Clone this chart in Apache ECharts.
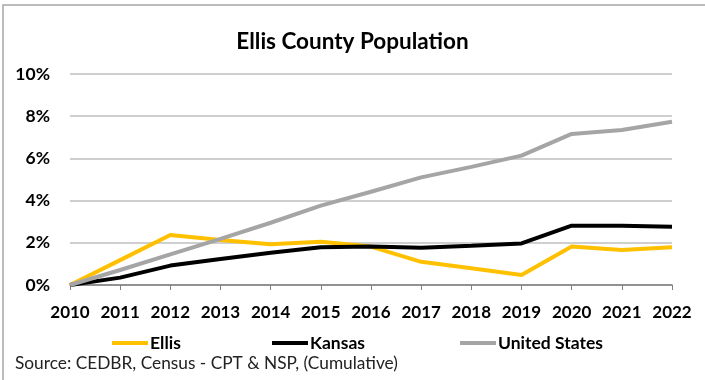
<!DOCTYPE html>
<html><head><meta charset="utf-8">
<script src="https://cdn.jsdelivr.net/npm/echarts@6/dist/echarts.min.js"></script>
<style>html,body{margin:0;padding:0;background:#fff}#c{width:705px;height:380px}</style>
</head><body><div id="c"></div>
<script>
const years = ['2010','2011','2012','2013','2014','2015','2016','2017','2018','2019','2020','2021','2022'];
const ellis = [0, 1.18, 2.37, 2.13, 1.93, 2.05, 1.82, 1.1, 0.79, 0.47, 1.82, 1.66, 1.79];
const kansas = [0, 0.35, 0.92, 1.23, 1.53, 1.79, 1.82, 1.77, 1.86, 1.97, 2.81, 2.81, 2.76];
const us = [0, 0.71, 1.45, 2.19, 2.95, 3.76, 4.42, 5.1, 5.6, 6.13, 7.16, 7.35, 7.74];
const seriesNames = ['Ellis','Kansas','United States'];
const FONT = 'Lato';
const legendLefts = [107, 267, 455];
const legendBase = {top:329, itemWidth:36, itemHeight:4, icon:'rect',
    textStyle:{fontSize:17.5, fontWeight:'bold', color:'#000', padding:[0,0,0,-3]}};
const chart = echarts.init(document.getElementById('c'));
chart.setOption({
  animation: false,
  textStyle: {fontFamily: FONT},
  graphic: [{type:'rect', shape:{x:3, y:5, width:720, height:400}, style:{fill:'none', stroke:'#a6a6a6', lineWidth:1.5}, silent:true},
    {type:'text', left:15, top:355, style:{text:'Source: CEDBR, Census - CPT & NSP, (Cumulative)', font:'17.3px '+FONT, fill:'#222'}}],
  title: {text:'Ellis County Population', left:'center', top:25, textStyle:{fontSize:22.5, fontWeight:'bold', color:'#000', fontFamily:FONT}},
  legend: seriesNames.map((n,i)=>Object.assign({}, legendBase, {left:legendLefts[i], data:[n]})),
  grid: {left:70, right:33, top:74, bottom:95},
  xAxis: {type:'category', data:years, boundaryGap:false,
    axisLine:{lineStyle:{color:'#7f7f7f', width:1.5}},
    axisTick:{show:true, interval:0, lineStyle:{color:'#7f7f7f'}, length:5},
    axisLabel:{interval:0, hideOverlap:false, fontSize:17, fontWeight:'bold', color:'#000', margin:19}},
  yAxis: {type:'value', min:0, max:10, interval:2,
    axisLine:{show:false}, axisTick:{show:false},
    splitLine:{lineStyle:{color:'#bfbfbf', width:1.5}},
    axisLabel:{formatter:'{value}%', fontSize:17.5, fontWeight:'bold', color:'#000', margin:20}},
  series: [
    {name:'Ellis', type:'line', data:ellis, symbol:'none', lineStyle:{color:'#ffc000', width:4}, itemStyle:{color:'#ffc000'}},
    {name:'Kansas', type:'line', data:kansas, symbol:'none', lineStyle:{color:'#000', width:4}, itemStyle:{color:'#000'}},
    {name:'United States', type:'line', data:us, symbol:'none', lineStyle:{color:'#a5a5a5', width:4}, itemStyle:{color:'#a5a5a5'}}
  ]
});
</script></body></html>
